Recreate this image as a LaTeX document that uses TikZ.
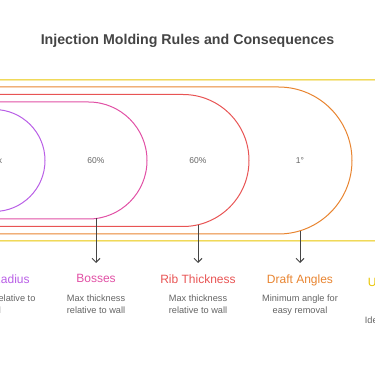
\documentclass[tikz,border=0pt]{standalone}
\usepackage{fontspec}
\setmainfont{Liberation Sans}
\usepackage{tikz}
\usetikzlibrary{arrows.meta}
\definecolor{radiusviolet}{RGB}{185, 95, 230}
\definecolor{bosspink}{RGB}{225, 80, 165}
\definecolor{ribred}{RGB}{232, 84, 84}
\definecolor{draftorange}{RGB}{232, 132, 48}
\definecolor{wallyellow}{RGB}{232, 196, 0}
\definecolor{valuegray}{RGB}{100, 100, 100}
\definecolor{headgray}{RGB}{68, 68, 68}
\definecolor{linkgray}{RGB}{70, 70, 70}

\begin{document}
\begin{tikzpicture}[x=1pt, y=-1pt,
    band/.style={line width=1pt, rounded corners=#1},
    value/.style={text=valuegray, font=\fontsize{8.5}{10}\selectfont},
    rulehead/.style={font=\fontsize{12}{14}\selectfont, inner sep=0pt, anchor=north, align=center},
    ruletext/.style={text=valuegray, font=\fontsize{9.2}{12}\selectfont, inner sep=0pt, anchor=north, align=center},
    link/.style={draw=linkgray, line width=1pt, -{Straight Barb[length=4pt,width=8pt]}, shorten >=11.5pt}]
    \clip (0,0) rectangle (375,366);
    \node[font=\bfseries\fontsize{14.2}{16}\selectfont, text=headgray] (title) at (187.5,41) {Injection Molding Rules and Consequences};
    % nested bands, open to the left
    \draw[band=80.5pt, wallyellow] (-200,80) rectangle (460,241);
    \draw[band=73.5pt, draftorange] (-200,87) rectangle (352,234);
    \draw[band=66pt, ribred] (-200,94.5) rectangle (249,226.5);
    \draw[band=58.5pt, bosspink] (-200,102) rectangle (147,219);
    \draw[band=51pt, radiusviolet] (-200,109.5) rectangle (45,211.5);
    \node[value] (radiusval) at (-6,160.5) {0.5x};
    \node[value] (bossval) at (96,160.5) {60\%};
    \node[value] (ribval) at (198,160.5) {60\%};
    \node[value] (draftval) at (300,160.5) {1°};
    \coordinate (bossfoot) at (96,218.5);
    \coordinate (ribfoot) at (198,224.8);
    \coordinate (draftfoot) at (300,230.8);
    % rule columns
    \node[rulehead, text=radiusviolet] (radius) at (-9,274.5) {Corner Radius};
    \node[ruletext] (radiustxt) at (-7,295) {Min radius relative to\\wall};
    \node[rulehead, text=bosspink] (bosses) at (96,274.5) {Bosses};
    \node[ruletext] (bossestxt) at (96,295) {Max thickness\\relative to wall};
    \node[rulehead, text=ribred] (rib) at (198,274.5) {Rib Thickness};
    \node[ruletext] (ribtxt) at (198,295) {Max thickness\\relative to wall};
    \node[rulehead, text=draftorange] (draft) at (300,274.5) {Draft Angles};
    \node[ruletext] (drafttxt) at (300,295) {Minimum angle for\\easy removal};
    \node[rulehead, text=wallyellow] (wall) at (402,277.5) {Uniform Wall\\Thickness};
    \node[ruletext] (walltxt) at (402,316.5) {Ideal thickness for\\even cooling};
    \draw[link] (bossfoot) -- (bosses.north);
    \draw[link] (ribfoot) -- (rib.north);
    \draw[link] (draftfoot) -- (draft.north);
\end{tikzpicture}
\end{document}
